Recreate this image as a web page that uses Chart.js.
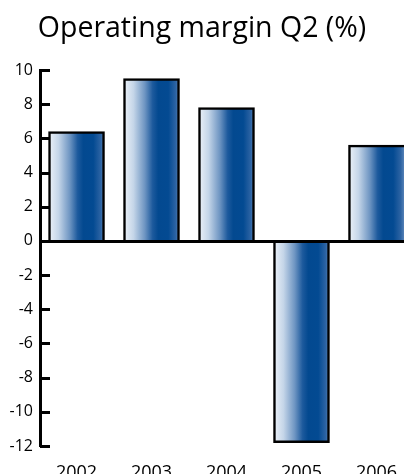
<!DOCTYPE html>
<html>
<head>
<meta charset="utf-8">
<title>Operating margin Q2 (%)</title>
<script src="https://cdn.jsdelivr.net/npm/chart.js@4.4.1/dist/chart.umd.min.js"></script>
<style>
  html, body { margin: 0; padding: 0; background: #fff; overflow: hidden; }
  #wrap { position: relative; width: 404px; height: 474px; overflow: hidden; }
  #box { position: absolute; left: 0; top: 0; width: 404px; height: 490px; }
</style>
</head>
<body>
<div id="wrap"><div id="box"><canvas id="chart"></canvas></div></div>
<script>
// Operating margin for the second quarter, by year (%)
const years = ['2002', '2003', '2004', '2005', '2006'];
const margins = [6.4, 9.5, 7.8, -11.8, 5.6];
const yTicks = [10, 8, 6, 4, 2, 0, -2, -4, -6, -8, -10, -12];
const titleText = 'Operating margin Q2 (%)';

const FONT = "'Open Sans', 'DejaVu Sans', sans-serif";
const BAR_PX = 56;

// Horizontal shading of each bar: pale on the left, deep blue towards the right
function barFill(ctx) {
  const chart = ctx.chart;
  if (!chart.chartArea) return '#0a4a91';
  const xs = chart.scales.x;
  const cx = xs.getPixelForValue(Number(years[ctx.dataIndex]));
  const g = chart.ctx.createLinearGradient(cx - BAR_PX / 2, 0, cx + BAR_PX / 2, 0);
  g.addColorStop(0.00, '#eef3f9');
  g.addColorStop(0.18, '#c4d5e8');
  g.addColorStop(0.38, '#6e95c2');
  g.addColorStop(0.52, '#1d5a9d');
  g.addColorStop(0.62, '#034990');
  g.addColorStop(0.80, '#034a92');
  g.addColorStop(0.93, '#2c63a3');
  g.addColorStop(1.00, '#5a85b8');
  return g;
}

// The last bar runs off the right edge, so it has no right-hand outline
function barBorder(ctx) {
  if (ctx.dataIndex === years.length - 1) {
    return { top: 2.5, left: 2.5, right: 0, bottom: 0 };
  }
  return 2.5;
}

// Short tick marks on the inner side of the value axis, and the zero baseline
const axisMarks = {
  id: 'axisMarks',
  beforeDatasetsDraw(chart) {
    const ys = chart.scales.y;
    const left = chart.chartArea.left;
    const c = chart.ctx;
    c.save();
    c.strokeStyle = '#000';
    c.lineWidth = 3;
    ys.ticks.forEach(t => {
      const py = Math.round(ys.getPixelForValue(t.value)) + 0.5;
      c.beginPath();
      c.moveTo(left, py);
      c.lineTo(left + 10, py);
      c.stroke();
    });
    c.restore();
  },
  afterDatasetsDraw(chart) {
    const ys = chart.scales.y;
    const { left, right } = chart.chartArea;
    const c = chart.ctx;
    const py = Math.round(ys.getPixelForValue(0)) + 0.5;
    c.save();
    c.strokeStyle = '#000';
    c.lineWidth = 3;
    c.beginPath();
    c.moveTo(left, py);
    c.lineTo(right, py);
    c.stroke();
    c.restore();
  }
};

new Chart(document.getElementById('chart'), {
  type: 'bar',
  data: {
    datasets: [{
      data: years.map((y, i) => ({ x: Number(y), y: margins[i] })),
      backgroundColor: barFill,
      borderColor: '#000',
      borderWidth: barBorder,
      borderSkipped: 'start',
      barThickness: BAR_PX
    }]
  },
  plugins: [axisMarks],
  options: {
    responsive: true,
    maintainAspectRatio: false,
    animation: false,
    layout: { padding: 0 },
    plugins: {
      legend: { display: false },
      tooltip: { enabled: false },
      title: {
        display: true,
        text: titleText,
        color: '#000',
        font: { family: FONT, size: 28.5, weight: 'normal', lineHeight: 1.2 },
        padding: { top: 12, bottom: 23.8 }
      }
    },
    scales: {
      x: {
        type: 'linear',
        offset: false,
        min: 2001.513,
        max: 2006.367,
        afterFit: s => { s.height = 44; s.paddingLeft = 0; s.paddingRight = 0; },
        afterBuildTicks: s => { s.ticks = years.map(y => ({ value: Number(y) })); },
        border: { display: false },
        grid: { display: false, drawTicks: false },
        ticks: {
          color: '#000',
          padding: 16,
          maxRotation: 0,
          autoSkip: false,
          font: { family: FONT, size: 18 },
          callback: v => years[years.indexOf(String(v))]
        }
      },
      y: {
        min: -12,
        max: 10,
        afterFit: s => { s.width = 40; },
        afterBuildTicks: s => { s.ticks = yTicks.map(v => ({ value: v })); },
        border: { display: true, color: '#000', width: 3 },
        grid: { drawOnChartArea: false, drawTicks: false, color: 'rgba(0,0,0,0)' },
        ticks: {
          color: '#000',
          padding: 7,
          font: { family: FONT, size: 16 },
          callback: v => String(v)
        }
      }
    }
  }
});
</script>
</body>
</html>
